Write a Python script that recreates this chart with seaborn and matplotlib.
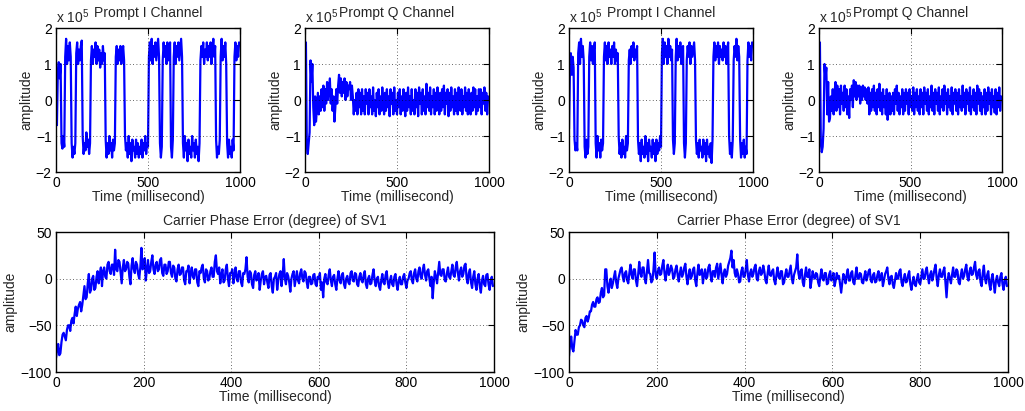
import numpy as np
import pandas as pd
import matplotlib
matplotlib.use("Agg")
import matplotlib.pyplot as plt
import seaborn as sns

# ---------------- data ----------------
# top panels: amplitude in units of 1e5, sampled every 5 ms
i_left = [
    0.5, -0.7, 0.8, 1.05, 0.6, 1.0, -1.2, -1.35, -1.0, -1.3,
    1.2, 1.7, 1.0, 1.5, 1.1, 1.6, 1.2, -1.2, -1.6, -1.3,
    -1.5, -1.2, 1.3, 1.6, 1.0, 1.4, 1.1, 1.5, 1.65, -1.0,
    -1.5, -1.2, -1.4, -0.9, -1.3, -1.1, -1.5, -1.2, 1.1, 1.5,
    1.0, 1.4, 1.2, 1.6, 1.0, 1.5, 1.1, 1.4, 0.9, 1.3,
    1.0, 1.5, 1.1, 1.3, -1.1, -1.6, -1.2, -1.5, -1.0, -1.4,
    -1.2, -1.6, -1.1, -1.4, -1.2, 1.2, 1.5, 1.0, 1.4, 1.1,
    1.5, 1.0, 1.3, 1.5, 1.1, -1.0, -1.4, -1.2, -1.6, -1.0,
    -1.5, -1.2, -1.7, -1.1, -1.4, -1.3, -1.6, -1.1, -1.5, -1.2,
    -1.6, -1.3, -1.5, -1.1, -1.6, -1.2, -1.4, -1.0, -1.5, -1.2,
    -1.3, 1.2, 1.6, 1.1, 1.7, 1.0, 1.5, 1.2, 1.6, 1.1,
    1.4, 1.7, 1.2, -1.2, -1.6, -1.3, 1.1, 1.6, 1.2, 1.5,
    1.0, 1.6, 1.1, 1.4, 1.6, -1.3, -1.6, -1.1, 1.2, 1.6,
    1.0, 1.5, 1.2, 1.6, 1.1, 1.4, 1.7, 1.2, -1.2, -1.6,
    -1.0, -1.4, -1.2, -1.7, -1.1, -1.5, -1.3, -1.6, -1.0, -1.4,
    -1.2, -1.6, -1.1, -1.5, -1.3, -1.7, -1.2, 1.1, 1.5, 1.2,
    1.6, 1.0, 1.4, 1.2, 1.6, 1.1, 1.5, 1.2, 1.6, 1.0,
    1.4, 1.7, 1.2, 1.5, -1.1, -1.6, -1.3, -1.5, -1.1, 1.2,
    1.7, 1.1, 1.5, 1.2, 1.6, 1.0, -1.2, -1.6, -1.1, -1.5,
    -1.3, -1.6, -1.1, -1.4, 1.2, 1.6, 1.1, 1.5, 1.2, 1.6]
q_left = [
    1.3, 1.6, -1.3, -1.5, -1.2, -0.9, 1.1, 0.5, 1.0, -0.2,
    -0.7, 0.1, -0.6, -0.2, 0.2, -0.4, 0.1, -0.3, 0.3, -0.2,
    0.4, -0.3, 0.3, -0.1, 0.5, 0.0, 0.3, 0.6, -0.1, 0.3,
    -0.3, 0.1, -0.6, -0.2, 0.3, -0.1, 0.4, 0.7, 0.2, 0.6,
    0.1, 0.5, 0.2, 0.6, 0.0, 0.5, 0.1, 0.4, 0.3, 0.5,
    0.0, 0.4, 0.1, -0.4, 0.0, -0.3, 0.2, -0.4, 0.3, -0.2,
    0.2, -0.4, 0.3, -0.3, 0.1, -0.4, 0.3, -0.1, 0.2, -0.4,
    0.3, -0.2, 0.1, -0.4, 0.35, -0.3, 0.0, -0.45, 0.2, -0.2,
    0.3, -0.4, 0.1, -0.3, 0.35, -0.1, -0.4, 0.2, -0.3, 0.3,
    -0.2, 0.1, -0.45, 0.3, -0.1, 0.2, -0.4, 0.35, -0.3, 0.0,
    -0.4, 0.2, -0.2, 0.3, -0.4, 0.1, -0.3, 0.3, -0.1, -0.45,
    0.2, -0.3, 0.35, -0.2, 0.1, -0.4, 0.3, -0.3, 0.0, -0.4,
    0.3, -0.2, 0.2, -0.45, 0.35, -0.1, 0.2, -0.4, 0.3, -0.3,
    0.1, -0.4, 0.45, -0.2, 0.2, -0.3, 0.35, -0.4, 0.1, -0.2,
    0.3, -0.4, 0.2, -0.3, 0.35, -0.1, -0.4, 0.2, -0.3, 0.3,
    -0.2, 0.4, -0.4, 0.2, -0.1, 0.3, -0.45, 0.2, -0.3, 0.35,
    -0.2, 0.1, -0.4, 0.3, -0.3, 0.2, -0.4, 0.35, -0.1, -0.3,
    0.3, -0.4, 0.1, -0.2, 0.35, -0.3, 0.2, -0.4, 0.3, -0.1,
    -0.4, 0.2, -0.3, 0.35, -0.2, 0.3, -0.4, 0.1, -0.3, 0.3,
    -0.2, 0.3, -0.4, 0.2, -0.1, 0.35, -0.3, 0.2, -0.4, 0.1]
i_right = [
    -0.8, 0.8, 1.3, 0.7, 1.2, 0.9, -1.1, -1.4, -1.2, -1.4,
    1.3, 1.6, 1.0, 1.7, 1.2, 1.5, 1.1, -1.3, -1.6, -1.1,
    -1.5, -1.3, 1.2, 1.6, 1.1, 1.5, 1.0, 1.4, 1.6, -1.2,
    -1.6, -1.0, -1.4, -1.2, -1.6, -1.1, -1.4, -1.2, 1.2, 1.6,
    1.1, 1.5, 1.0, 1.6, 1.2, 1.4, 1.0, 1.5, 1.2, 1.6,
    1.0, 1.4, 1.1, 1.3, -1.0, -1.5, -1.2, -1.6, -1.1, -1.5,
    -1.3, -1.6, -1.0, -1.4, -1.2, 1.1, 1.4, 1.0, 1.5, 1.2,
    1.6, 1.1, 1.4, 1.2, 1.5, -1.1, -1.5, -1.2, -1.7, -1.1,
    -1.5, -1.3, -1.6, -1.0, -1.5, -1.2, -1.7, -1.1, -1.4, -1.3,
    -1.6, -1.1, -1.5, -1.2, -1.7, -1.1, -1.5, -1.2, -1.4, -1.0,
    -1.3, 1.3, 1.7, 1.0, 1.6, 1.2, 1.5, 1.0, 1.7, 1.2,
    1.5, 1.1, 1.4, -1.1, -1.5, -1.2, 1.2, 1.7, 1.1, 1.5,
    1.2, 1.6, 1.0, 1.4, 1.5, -1.2, -1.6, -1.2, 1.1, 1.5,
    1.2, 1.6, 1.0, 1.5, 1.2, 1.4, 1.6, 1.1, -1.1, -1.5,
    -1.2, -1.6, -1.1, -1.4, -1.3, -1.6, -1.1, -1.5, -1.2, -1.7,
    -1.1, -1.5, -1.3, -1.6, -1.2, -1.75, -1.1, 1.2, 1.6, 1.1,
    1.5, 1.2, 1.6, 1.0, 1.5, 1.2, 1.4, 1.1, 1.6, 1.2,
    1.5, 1.0, 1.4, 1.6, -1.0, -1.5, -1.2, -1.6, -1.1, 1.1,
    1.5, 1.2, 1.7, 1.1, 1.5, 1.2, -1.1, -1.6, -1.2, -1.5,
    -1.1, -1.6, -1.3, -1.5, 1.1, 1.6, 1.2, 1.5, 1.1, 1.6]
q_right = [
    1.2, 1.6, -1.2, -1.45, -1.3, -0.8, 1.0, 0.6, 0.9, -0.4,
    0.5, -0.6, -0.5, 0.1, -0.3, 0.3, -0.4, 0.2, 0.5, -0.3,
    0.4, -0.2, 0.3, -0.4, 0.4, -0.1, 0.2, -0.3, 0.4, -0.2,
    0.3, -0.4, 0.1, -0.5, 0.3, 0.0, 0.4, -0.2, 0.55, 0.1,
    0.5, 0.0, 0.4, 0.1, 0.4, -0.1, 0.35, 0.0, 0.4, 0.1,
    0.35, 0.0, 0.3, -0.1, 0.35, -0.4, 0.2, -0.3, 0.3, -0.2,
    0.4, -0.3, 0.2, -0.4, 0.3, -0.2, 0.45, -0.3, 0.2, -0.4,
    0.3, -0.2, 0.1, -0.4, 0.3, -0.55, -0.2, 0.2, -0.4, 0.1,
    -0.3, 0.2, -0.4, 0.3, -0.1, 0.4, -0.3, 0.2, -0.4, 0.1,
    -0.2, 0.3, -0.4, 0.2, -0.3, 0.3, -0.1, 0.2, -0.4, 0.3,
    -0.2, 0.1, -0.3, 0.35, -0.4, 0.2, -0.2, 0.3, -0.3, 0.1,
    -0.4, 0.3, -0.2, 0.2, -0.4, 0.35, -0.1, 0.2, -0.3, 0.3,
    -0.4, 0.1, -0.2, 0.4, -0.3, 0.2, -0.4, 0.3, -0.1, 0.2,
    -0.3, 0.35, -0.4, 0.1, -0.2, 0.3, -0.3, 0.4, -0.1, 0.2,
    -0.4, 0.3, -0.2, 0.1, -0.3, 0.35, -0.4, 0.2, -0.1, 0.3,
    -0.3, 0.2, -0.4, 0.3, -0.2, 0.1, -0.3, 0.4, -0.2, 0.2,
    -0.4, 0.3, -0.1, 0.2, -0.3, 0.35, -0.4, 0.1, -0.2, 0.3,
    -0.3, 0.2, -0.4, 0.4, -0.1, 0.3, -0.3, 0.2, -0.4, 0.1,
    -0.2, 0.3, -0.4, 0.2, -0.3, 0.35, -0.1, 0.2, -0.4, 0.3,
    -0.2, 0.1, -0.35, 0.3, -0.4, 0.2, -0.2, 0.35, -0.3, 0.1]

# bottom panels: carrier phase error in degrees, sampled every 2.5 ms
phase_left = [
    -85, -76, -70, -82, -80, -68, -60, -58, -62, -66, -55, -50, -50, -56, -45, -42, -48, -38, -30, -40,
    -32, -28, -25, -35, -28, -18, -8, -22, -20, -5, 5, -15, -12, 0, 3, -12, -10, 2, 8, -5,
    5, 12, -8, 8, 12, 2, 0, 15, 18, 8, 5, 15, 15, 4, 31, 10, 8, 20, 18, 6,
    -5, 12, 20, 8, 10, 18, 16, 2, -6, 14, 22, 10, 6, 18, 15, 5, 0, 12, 33, 10,
    12, 22, -2, 10, 20, 6, 8, 18, 25, 10, 5, 15, 18, 8, 10, 20, 22, 6, 3, 15,
    15, 5, 8, 18, 18, 6, 2, 14, 12, 0, -3, 10, 15, 4, 5, 12, 12, -2, -6, 8,
    8, 14, -5, 6, 12, 2, 0, 10, 10, -4, -8, 8, 6, 12, 15, 0, -4, 10, 8, -2,
    0, 8, 12, 2, 2, 18, 25, 8, 5, 12, -5, 4, 10, -4, -2, 10, 15, 0, -8, 6,
    6, 10, -5, 4, 12, 0, -3, 8, 8, -4, -8, 6, 5, 10, 23, 2, -4, 8, 6, -6,
    -10, 4, 8, -2, 0, 6, -12, -2, 5, 8, -6, 2, 3, -4, -10, 4, 6, -8, -15, 0,
    2, 6, -12, -2, 5, 8, -8, 4, 21, 0, -6, 6, 3, -4, -14, 0, 5, 8, -8, 0,
    8, -2, -5, 6, 10, 0, -3, 8, 6, -4, -10, 2, 2, -6, -5, 4, 5, -6, -8, 2,
    0, 6, -12, -4, -20, 0, 5, -4, -6, 4, 10, -2, -8, 2, 4, -6, -12, 0, 8, -2,
    -5, 4, 6, -6, -10, 0, 3, -4, -6, 6, 8, -2, -3, 6, 5, -6, -8, 2, 6, -2,
    -4, 4, 8, -6, -10, 0, 3, -6, -5, 4, 10, -2, -8, 0, 2, -8, -12, -2, 5, -4,
    -6, 4, 8, -4, -10, -2, 3, -6, -8, 2, 5, -6, -12, -2, 2, -6, -6, 2, 5, -4,
    -10, -2, 0, 6, 8, -2, -5, 6, 10, 0, -3, 8, 12, 2, 0, 10, 15, 4, -2, 8,
    10, 0, -8, 2, -21, -4, 8, 2, -5, 6, 18, 4, 3, 10, 10, -2, -3, 6, 12, 2,
    0, 8, 15, 4, 2, 12, 18, 6, -2, 8, 12, 2, 5, 14, 16, 0, -5, 6, 10, -4,
    -10, 2, 8, -6, -12, 0, 5, -8, -15, -2, 3, -6, -8, 4, 5, -6, -12, -2, 2, -8]
phase_right = [
    -83, -70, -62, -75, -78, -66, -55, -60, -60, -52, -50, -44, -45, -50, -52, -42, -40, -46, -42, -35,
    -35, -28, -25, -30, -30, -22, -20, -26, -25, -15, -10, -20, -18, 10, 10, -8, -15, -5, 0, -10,
    -5, 2, 8, -4, -10, 0, 5, 10, 12, 2, -3, 6, 8, -2, -5, 6, 15, 4, 0, 10,
    10, -2, -8, 4, 18, 6, 2, 12, 12, 0, -5, 8, 20, 6, 5, -4, -2, 10, 28, 4,
    0, 8, 12, 4, 5, 14, 20, 6, -2, 8, 15, 4, 8, 14, 10, 0, 2, 10, 14, 4,
    -3, 6, 12, 2, 5, 12, 16, 2, -6, 4, 10, 0, 3, 10, 12, -2, -8, 6, 15, 4,
    5, 10, -5, 4, 10, 0, 2, 12, 15, 4, -3, 8, 8, 2, 12, 16, 0, 8, 16, 4,
    -5, 6, 10, 2, 5, 14, 18, 22, 30, 12, 20, 6, 2, 10, 5, -4, -3, 8, 12, 2,
    2, 10, 20, 4, -3, 6, 10, 2, 5, 12, 15, 0, -2, 8, 12, 4, 6, 14, 8, -2,
    -5, 6, 14, 4, 3, 8, 10, -2, -6, 4, 12, 2, 0, 8, 8, -6, -4, 4, 10, 2,
    2, 8, 14, 0, -5, 4, 8, 12, 26, 6, 0, 8, 10, -4, -8, 4, 12, 2, 2, 10,
    -10, -2, 8, 2, 0, 6, 5, -4, -8, 2, 10, 0, -2, 6, 6, -6, -5, 4, 8, -2,
    0, 6, -8, -2, 6, 0, 3, -6, -15, -4, 5, 2, -5, 4, 10, -2, -2, 6, 8, -4,
    -6, 4, 12, 0, 0, 6, 5, -4, -5, 2, 8, -2, 2, 8, 10, -2, -4, 4, 6, -4,
    -3, 4, 8, -2, 0, 6, -8, -2, 5, 8, 12, 0, -6, 2, 3, -6, -10, -2, 6, 0,
    0, 8, 10, -4, -8, 0, 5, -4, -3, 4, 8, -6, -12, -4, 2, -6, -8, 0, 5, -4,
    -6, 2, 10, 0, 0, 8, 12, 2, -5, 4, 8, -2, 3, 10, 15, 0, -8, 4, 10, 2,
    2, 8, 12, -4, -20, -2, 6, 0, -5, 4, 12, 2, 2, 10, 8, -4, -6, 4, 10, 0,
    3, 10, 15, 2, -2, 8, 12, 4, 5, 12, 18, 4, 0, 8, 10, -4, -8, 6, 14, 0,
    -5, 4, 8, -6, -12, 0, 5, -6, -15, -2, 3, -4, -8, 2, 6, -6, -12, -2, 2, -8]

top_step_ms = 5
bottom_step_ms = 2.5
top_titles = ["Prompt I Channel", "Prompt Q Channel", "Prompt I Channel", "Prompt Q Channel"]
bottom_title = "Carrier Phase Error (degree) of SV1"
xlabel = "Time (millisecond)"
ylabel = "amplitude"
top_xticks = [0, 500, 1000]
top_yticks = [-2, -1, 0, 1, 2]
bottom_xticks = [0, 200, 400, 600, 800, 1000]
bottom_yticks = [-100, -50, 0, 50]

# ---------------- styling ----------------
sns.set_theme(style="white")
plt.rcParams['font.family'] = ['Liberation Sans', 'DejaVu Sans']
plt.rcParams['mathtext.fontset'] = 'custom'
plt.rcParams['mathtext.rm'] = 'Liberation Sans'
plt.rcParams['mathtext.it'] = 'Liberation Sans'
FS = 10

fig = plt.figure(figsize=(10.25, 4.11), dpi=100)
W, H = 1025, 411

def px_axes(x0, x1, y0, y1):
    return fig.add_axes([x0 / W, (H - y1) / H, (x1 - x0) / W, (y1 - y0) / H])

top_axes = [px_axes(56, 240, 28, 172), px_axes(305, 489, 28, 172),
            px_axes(569, 753, 28, 172), px_axes(819, 1002, 28, 172)]
bot_axes = [px_axes(56, 494, 232, 372), px_axes(569, 1008, 232, 372)]

def style(ax, xt, yt, xlim, ylim):
    ax.set_xlim(*xlim)
    ax.set_ylim(*ylim)
    ax.set_xticks(xt)
    ax.set_yticks(yt)
    ax.tick_params(direction='in', length=4, width=0.8, colors='black',
                   labelsize=FS, top=True, right=True, pad=3)
    for s in ax.spines.values():
        s.set_visible(True)
        s.set_color('black')
        s.set_linewidth(1.0)
    ax.grid(True, linestyle=(0, (1, 3)), color='black', linewidth=0.6, alpha=0.8)
    ax.set_axisbelow(False)
    ax.set_xlabel(xlabel, fontsize=FS, labelpad=0)
    ax.set_ylabel(ylabel, fontsize=FS, labelpad=2)
    ax.set_facecolor('white')

top_series = [i_left, q_left, i_right, q_right]
for ax, vals, title in zip(top_axes, top_series, top_titles):
    df = pd.DataFrame({"t": np.arange(len(vals)) * top_step_ms, "v": vals})
    sns.lineplot(data=df, x="t", y="v", ax=ax, color=(0, 0, 1), linewidth=1.6,
                 estimator=None, sort=False)
    style(ax, top_xticks, top_yticks, (0, 1000), (-2, 2))
    ax.set_title(title, fontsize=FS, pad=8)
    ax.text(0.0, 1.015, r'x 10$^5$', transform=ax.transAxes, ha='left', va='bottom',
            fontsize=FS)

for ax, vals in zip(bot_axes, [phase_left, phase_right]):
    df = pd.DataFrame({"t": np.arange(len(vals)) * bottom_step_ms, "v": vals})
    sns.lineplot(data=df, x="t", y="v", ax=ax, color=(0, 0, 1), linewidth=1.6,
                 estimator=None, sort=False)
    style(ax, bottom_xticks, bottom_yticks, (0, 1000), (-100, 50))
    ax.set_title(bottom_title, fontsize=FS, pad=5)

fig.savefig("out.png", dpi=100, facecolor='white')
